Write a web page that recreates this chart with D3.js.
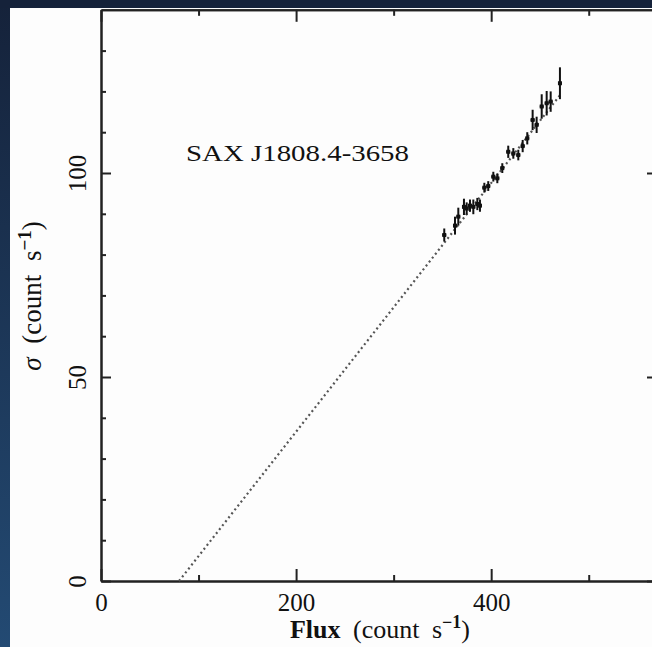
<!DOCTYPE html>
<html>
<head>
<meta charset="utf-8">
<script src="https://cdn.jsdelivr.net/npm/d3@7"></script>
<style>
  html, body { margin: 0; padding: 0; background: #16233a; }
  svg { display: block; }
  text { font-family: "Liberation Serif", "DejaVu Serif", serif; fill: #111; }
</style>
</head>
<body>
<svg id="main-svg" width="652" height="647"></svg>
<script>
// data: flux (count/s), sigma (count/s), errors
var flux  = [351.9, 362.9, 366.3, 372.1, 374.9, 378.3, 381.7, 385.8, 388.5, 393.0, 397.0, 402.2, 406.3,
             411.4, 417.5, 422.7, 427.8, 432.3, 437.0, 442.5, 446.6, 451.8, 456.9, 461.0, 470.5];
var sigma = [84.8, 87.1, 89.3, 91.7, 91.3, 92.0, 91.7, 92.4, 92.0, 96.4, 96.8, 99.1, 98.7,
             101.2, 105.2, 104.8, 104.4, 106.6, 108.5, 113.0, 111.8, 116.3, 117.1, 117.5, 122.0];
var sigmaErr = [1.6, 2.2, 2.2, 2.0, 1.5, 1.5, 1.8, 1.5, 1.5, 1.2, 1.2, 1.2, 1.2,
                1.2, 1.5, 1.3, 1.3, 1.5, 1.5, 2.5, 2.0, 3.0, 3.0, 2.5, 3.9];
var fluxErr = [2, 2, 2, 2, 2, 2, 2, 2, 2, 2, 2, 2, 2, 2, 2, 2, 2, 2, 2, 2, 2, 2, 2, 2, 2];

// linear rms-flux model (dotted)
var modelFlux  = [80, 472];
var modelSigma = [0, 119.5];

var xMajor = [0, 200, 400];
var xMinor = [100, 300, 500];
var yMajor = [0, 50, 100];
var yMinor = [10, 20, 30, 40, 60, 70, 80, 90, 110, 120, 130];

var sourceName = "SAX J1808.4-3658";

var svg = d3.select("#main-svg");
var W = 652, H = 647;

// background: dark frame + white page
var defs = svg.append("defs");
var grad = defs.append("linearGradient").attr("id", "bg-grad")
  .attr("x1", 0).attr("y1", 0).attr("x2", 0).attr("y2", 1);
grad.append("stop").attr("offset", "0%").attr("stop-color", "#15223a");
grad.append("stop").attr("offset", "100%").attr("stop-color", "#234a73");
svg.append("rect").attr("width", W).attr("height", H).attr("fill", "url(#bg-grad)");
svg.append("rect").attr("x", 0).attr("y", 0).attr("width", W).attr("height", 8).attr("fill", "#15223a");
svg.append("rect").attr("x", 10).attr("y", 8).attr("width", W - 10).attr("height", H - 8).attr("fill", "#fdfdfd");

var x = d3.scaleLinear().domain([0, 570]).range([101, 657]);
var y = d3.scaleLinear().domain([0, 140]).range([581, 9.8]);

var axisColor = "#222";

function styleAxis(g) {
  g.select(".domain").attr("stroke", axisColor).attr("stroke-width", 2);
  g.selectAll(".tick line").attr("stroke", axisColor).attr("stroke-width", 2);
}

// bottom axis
var gB = svg.append("g").attr("transform", "translate(0," + y(0) + ")")
  .call(d3.axisBottom(x).tickValues(xMajor).tickSize(-12).tickPadding(0).tickSizeOuter(0).tickFormat(d3.format("d")))
  .call(styleAxis);
gB.selectAll(".tick text").attr("y", 30).attr("dy", 0)
  .style("font-size", "25px").attr("fill", "#111");
svg.append("g").attr("transform", "translate(0," + y(0) + ")")
  .call(d3.axisBottom(x).tickValues(xMinor).tickSize(-6).tickSizeOuter(0).tickFormat(""))
  .call(styleAxis);

// top axis
svg.append("g").attr("transform", "translate(0," + y(140) + ")")
  .call(d3.axisTop(x).tickValues(xMajor).tickSize(-12).tickSizeOuter(0).tickFormat(""))
  .call(styleAxis);
svg.append("g").attr("transform", "translate(0," + y(140) + ")")
  .call(d3.axisTop(x).tickValues(xMinor).tickSize(-6).tickSizeOuter(0).tickFormat(""))
  .call(styleAxis);

// left axis
var gL = svg.append("g").attr("transform", "translate(" + x(0) + ",0)")
  .call(d3.axisLeft(y).tickValues(yMajor).tickSize(-10).tickSizeOuter(0).tickFormat(d3.format("d")))
  .call(styleAxis);
gL.selectAll(".tick text")
  .attr("x", 0).attr("dy", 0)
  .attr("text-anchor", "middle")
  .attr("transform", "translate(-15,0) rotate(-90)")
  .style("font-size", "25px").attr("fill", "#111");
svg.append("g").attr("transform", "translate(" + x(0) + ",0)")
  .call(d3.axisLeft(y).tickValues(yMinor).tickSize(-5).tickSizeOuter(0).tickFormat(""))
  .call(styleAxis);

// right axis (mostly out of frame)
svg.append("g").attr("transform", "translate(" + x(570) + ",0)")
  .call(d3.axisRight(y).tickValues(yMajor).tickSize(-10).tickSizeOuter(0).tickFormat(""))
  .call(styleAxis);
svg.append("g").attr("transform", "translate(" + x(570) + ",0)")
  .call(d3.axisRight(y).tickValues(yMinor).tickSize(-5).tickSizeOuter(0).tickFormat(""))
  .call(styleAxis);

// dotted model line
var line = d3.line().x(function(d) { return x(d[0]); }).y(function(d) { return y(d[1]); });
svg.append("path")
  .datum(d3.zip(modelFlux, modelSigma))
  .attr("d", line)
  .attr("fill", "none")
  .attr("stroke", "#555")
  .attr("stroke-width", 2.2)
  .attr("stroke-dasharray", "2,3");

// data with error bars
var pts = flux.map(function(f, i) {
  return { f: f, s: sigma[i], se: sigmaErr[i], fe: fluxErr[i] };
});
var pg = svg.append("g").attr("class", "points");
pg.selectAll("line.ey").data(pts).enter().append("line")
  .attr("class", "ey")
  .attr("x1", function(d) { return x(d.f); })
  .attr("x2", function(d) { return x(d.f); })
  .attr("y1", function(d) { return y(d.s - d.se); })
  .attr("y2", function(d) { return y(d.s + d.se); })
  .attr("stroke", "#111").attr("stroke-width", 2);
pg.selectAll("line.ex").data(pts).enter().append("line")
  .attr("class", "ex")
  .attr("x1", function(d) { return x(d.f - d.fe); })
  .attr("x2", function(d) { return x(d.f + d.fe); })
  .attr("y1", function(d) { return y(d.s); })
  .attr("y2", function(d) { return y(d.s); })
  .attr("stroke", "#111").attr("stroke-width", 2);
pg.selectAll("rect").data(pts).enter().append("rect")
  .attr("x", function(d) { return x(d.f) - 2; })
  .attr("y", function(d) { return y(d.s) - 2; })
  .attr("width", 4).attr("height", 4)
  .attr("fill", "#111");

// source label
svg.append("text")
  .attr("x", 186).attr("y", 161)
  .attr("textLength", 223).attr("lengthAdjust", "spacingAndGlyphs")
  .style("font-size", "24px")
  .text(sourceName);

// x label
var xl = svg.append("text")
  .attr("x", 380).attr("y", 638)
  .attr("text-anchor", "middle")
  .style("font-size", "26px")
  .style("word-spacing", "6px");
xl.append("tspan").attr("font-weight", "bold").text("Flux");
xl.append("tspan").text(" (count s");
xl.append("tspan").attr("dy", -10).style("font-size", "18px").attr("font-weight", "bold").text("\u22121");
xl.append("tspan").attr("dy", 10).text(")");

// y label
var yl = svg.append("text")
  .attr("transform", "translate(41," + 296 + ") rotate(-90)")
  .attr("text-anchor", "middle")
  .style("font-size", "27px")
  .style("word-spacing", "7px");
yl.append("tspan").attr("font-style", "italic").text("\u03c3");
yl.append("tspan").text(" (count s");
yl.append("tspan").attr("dy", -10).style("font-size", "19px").attr("font-weight", "bold").text("\u22121");
yl.append("tspan").attr("dy", 10).text(")");
</script>
</body>
</html>
